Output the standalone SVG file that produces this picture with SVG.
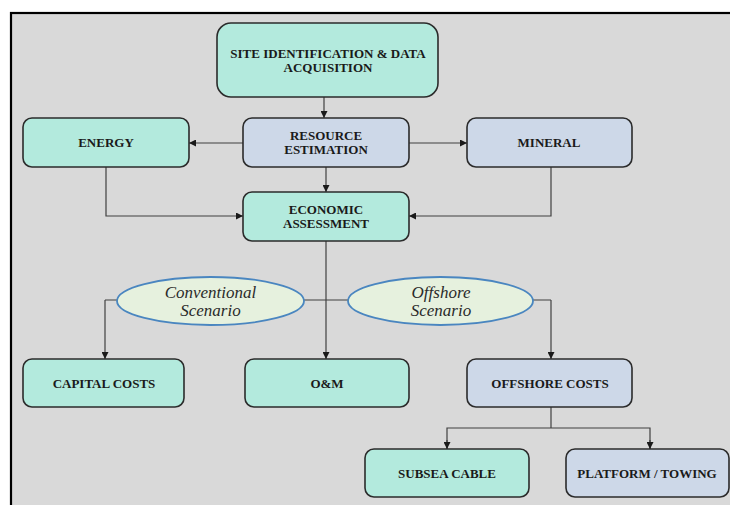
<svg xmlns="http://www.w3.org/2000/svg" width="730" height="505" viewBox="0 0 730 505">
<style>
.t{fill:#b3eadd;stroke:#2b2b2b;stroke-width:1.6}
.b{fill:#cdd8e8;stroke:#2b2b2b;stroke-width:1.6}
.e{fill:#e6f1de;stroke:#4a86c0;stroke-width:1.8}
.lb{font-family:"Liberation Serif",serif;font-weight:bold;font-size:13px;fill:#1a1a1a;text-anchor:middle}
.it{font-family:"Liberation Serif",serif;font-style:italic;font-size:17px;fill:#2a2a2a;text-anchor:middle}
.c{fill:none;stroke:#404040;stroke-width:1.2}
</style>
<defs>
<marker id="ah" viewBox="0 0 8 8" refX="8" refY="4" markerWidth="7" markerHeight="7" markerUnits="userSpaceOnUse" orient="auto">
<path d="M0,0 L8,4 L0,8 z" fill="#1a1a1a"/>
</marker>
</defs>
<rect x="0" y="0" width="730" height="505" fill="#ffffff"/>
<rect x="11" y="13" width="730" height="500" fill="#d9d9d9" stroke="#000" stroke-width="2.2"/>
<g id="connectors">
<line class="c" x1="324" y1="97" x2="324" y2="118" marker-end="url(#ah)"/>
<line class="c" x1="243" y1="143" x2="189" y2="143" marker-end="url(#ah)"/>
<line class="c" x1="409" y1="143" x2="467" y2="143" marker-end="url(#ah)"/>
<line class="c" x1="326" y1="167" x2="326" y2="192" marker-end="url(#ah)"/>
<polyline class="c" points="106,167 106,216 243,216" marker-end="url(#ah)"/>
<polyline class="c" points="551,167 551,216 409,216" marker-end="url(#ah)"/>
<line class="c" x1="326" y1="241" x2="326" y2="359" marker-end="url(#ah)"/>
<line class="c" x1="105" y1="300" x2="551" y2="300"/>
<line class="c" x1="105" y1="300" x2="105" y2="359" marker-end="url(#ah)"/>
<line class="c" x1="551" y1="300" x2="551" y2="359" marker-end="url(#ah)"/>
<polyline class="c" points="551,407 551,428"/>
<polyline class="c" points="447,449 447,428 650,428 650,449"/>
<line class="c" x1="447" y1="440" x2="447" y2="449" marker-end="url(#ah)"/>
<line class="c" x1="650" y1="440" x2="650" y2="449" marker-end="url(#ah)"/>
</g>
<g id="site">
<rect class="t" x="217" y="23" width="221" height="74" rx="14"/>
<text class="lb" x="328" y="58">SITE IDENTIFICATION &amp; DATA</text>
<text class="lb" x="328" y="72">ACQUISITION</text>
</g>
<g id="energy">
<rect class="t" x="23" y="118" width="166" height="49" rx="9"/>
<text class="lb" x="106" y="147">ENERGY</text>
</g>
<g id="resource">
<rect class="b" x="243" y="118" width="166" height="49" rx="9"/>
<text class="lb" x="326" y="140">RESOURCE</text>
<text class="lb" x="326" y="154">ESTIMATION</text>
</g>
<g id="mineral">
<rect class="b" x="467" y="118" width="165" height="49" rx="9"/>
<text class="lb" x="549" y="147">MINERAL</text>
</g>
<g id="economic">
<rect class="t" x="243" y="192" width="166" height="49" rx="9"/>
<text class="lb" x="326" y="214">ECONOMIC</text>
<text class="lb" x="326" y="228">ASSESSMENT</text>
</g>
<g id="conventional">
<ellipse class="e" cx="210.5" cy="301" rx="93.5" ry="24"/>
<text class="it" x="210.5" y="298">Conventional</text>
<text class="it" x="210.5" y="316">Scenario</text>
</g>
<g id="offshore">
<ellipse class="e" cx="440.5" cy="301" rx="92.5" ry="24"/>
<text class="it" x="441" y="298">Offshore</text>
<text class="it" x="441" y="316">Scenario</text>
</g>
<g id="capital">
<rect class="t" x="23" y="359" width="161" height="48" rx="9"/>
<text class="lb" x="104" y="388">CAPITAL COSTS</text>
</g>
<g id="om">
<rect class="t" x="245" y="359" width="164" height="48" rx="9"/>
<text class="lb" x="327" y="388">O&amp;M</text>
</g>
<g id="offshorecosts">
<rect class="b" x="467" y="359" width="165" height="48" rx="9"/>
<text class="lb" x="550" y="388">OFFSHORE COSTS</text>
</g>
<g id="subsea">
<rect class="t" x="365" y="449" width="164" height="48" rx="9"/>
<text class="lb" x="447" y="478">SUBSEA CABLE</text>
</g>
<g id="platform">
<rect class="b" x="566" y="449" width="163" height="48" rx="9"/>
<text class="lb" x="647" y="478">PLATFORM / TOWING</text>
</g>
</svg>
